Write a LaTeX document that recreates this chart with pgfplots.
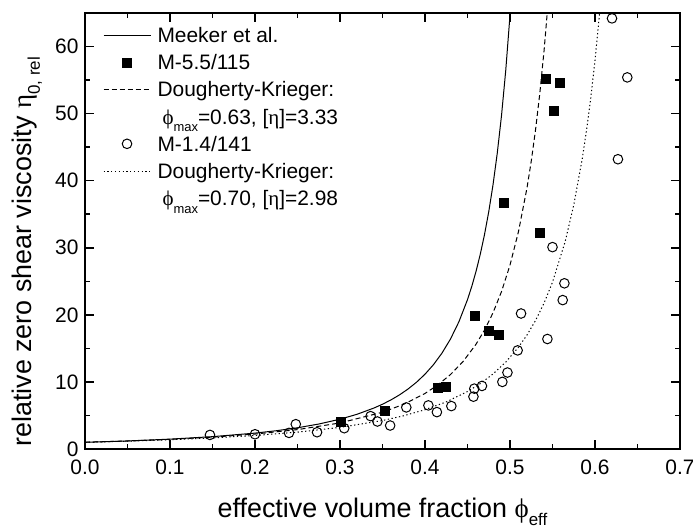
\documentclass[border=0pt]{standalone}
\usepackage{pgfplots}
\pgfplotsset{compat=1.18}
\usepackage{fontspec}
\setmainfont{Liberation Sans}
\newfontfamily\grk{Liberation Serif}
\newcommand\lsub[1]{\raisebox{-7.5bp}{\fontsize{13}{13}\selectfont #1}}
\newcommand\asub[1]{\raisebox{-8bp}{\fontsize{17}{17}\selectfont #1}}
\begin{document}
\begin{tikzpicture}
\useasboundingbox (0,0) rectangle (693bp,528bp);
\begin{axis}[
  at={(85bp,79bp)}, anchor=south west, scale only axis,
  width=595bp, height=436bp,
  xmin=0, xmax=0.7, ymin=0, ymax=65,
  xtick={0,0.1,0.2,0.3,0.4,0.5,0.6,0.7},
  xticklabels={0.0,0.1,0.2,0.3,0.4,0.5,0.6,0.7},
  ytick={0,10,20,30,40,50,60},
  minor x tick num=1, minor y tick num=1,
  tick align=inside, major tick length=9bp, minor tick length=5bp,
  axis line style={line width=2bp},
  every tick/.style={line width=1.6bp, black},
  /pgf/number format/assume math mode=true,
  ticklabel style={font=\fontsize{21}{21}\selectfont},
  xticklabel style={yshift=-7bp},
  yticklabel style={xshift=-3bp},
  xlabel={effective volume fraction {\grk ϕ}\asub{eff}},
  ylabel={relative zero shear viscosity {\grk η}\asub{0, rel}},
  xlabel style={at={(axis description cs:0.5,-0.1560)}, anchor=base, font=\fontsize{27}{27}\selectfont},
  ylabel style={at={(axis description cs:-0.0891,0.452)}, anchor=base, font=\fontsize{27}{27}\selectfont},
  legend cell align=left,
  legend style={at={(axis description cs:0.0303,0.9807)}, anchor=north west,
    draw=none, fill=none, inner sep=0pt, outer sep=0pt,
    font=\fontsize{21}{21}\selectfont,
    nodes={inner xsep=6.5bp, inner ysep=6.1bp, text height=15bp, text depth=0bp}},
  legend image code/.code={\draw[mark repeat=2,mark phase=2,#1] plot coordinates {(0bp,0bp) (23.5bp,0bp) (47bp,0bp)};},
]
% Meeker et al.
\addplot[black, line width=1bp, no marks] coordinates {
(0,1) (0.05,1.2012) (0.1,1.4697) (0.15,1.8396) (0.2,2.3688) (0.225,2.7235) (0.25,3.1642)
(0.275,3.7212) (0.3,4.4395) (0.32,5.175) (0.34,6.110) (0.35,6.6756) (0.36,7.323) (0.37,8.070)
(0.38,8.937) (0.39,9.952) (0.40,11.150) (0.41,12.578) (0.42,14.299) (0.43,16.400) (0.44,18.999)
(0.45,22.269) (0.455,24.231) (0.46,26.46) (0.465,29.017) (0.47,31.96) (0.475,35.376)
(0.48,39.37) (0.485,44.086) (0.49,49.69) (0.495,56.45) (0.5,64.68) (0.501,66.54)};
\addlegendentry{Meeker et al.}
% M-5.5/115
\addplot[black, only marks, mark=square*, mark size=4.5bp] coordinates {
(0.301,4.1) (0.353,5.7) (0.415,9.1) (0.424,9.3) (0.458,19.8) (0.475,17.6)
(0.487,17.1) (0.493,36.7) (0.535,32.2) (0.542,55.2) (0.551,50.5) (0.558,54.6)};
\addlegendentry{M-5.5/115}
% Dougherty-Krieger 0.63
\addplot[black, line width=1bp, no marks, dash pattern=on 5bp off 3bp] coordinates {
(0,1) (0.05,1.1895) (0.1,1.4371) (0.15,1.7691) (0.2,2.2285) (0.25,2.8881)
(0.3,3.8829) (0.35,5.4810) (0.375,6.669) (0.4,8.280) (0.415,9.540) (0.43,11.102)
(0.445,13.075) (0.46,15.614) (0.47,17.731) (0.48,20.30) (0.49,23.464) (0.5,27.41)
(0.51,32.42) (0.52,38.93) (0.525,42.91) (0.53,47.54)
(0.535,52.93) (0.54,59.27) (0.545,66.84)};
\addlegendentry{Dougherty-Krieger:}
\addlegendimage{empty legend}
\addlegendentry{\hspace{5bp}{\grk ϕ}\lsub{max}=0.63, [{\grk η}]=3.33}
% M-1.4/141
\addplot[black, only marks, mark=o, mark size=4.8bp, mark options={line width=1bp}] coordinates {
(0.147,2.1) (0.200,2.2) (0.240,2.4) (0.248,3.7) (0.273,2.5) (0.305,3.1)
(0.336,4.9) (0.344,4.1) (0.359,3.5) (0.378,6.2) (0.404,6.5) (0.414,5.5)
(0.431,6.4) (0.457,7.8) (0.458,9.0) (0.467,9.4) (0.491,10.0) (0.497,11.4)
(0.509,14.7) (0.513,20.2) (0.544,16.4) (0.550,30.1) (0.562,22.2) (0.564,24.7)
(0.620,64.2) (0.627,43.2) (0.638,55.4)};
\addlegendentry{M-1.4/141}
% Dougherty-Krieger 0.70
\addplot[black, line width=1bp, no marks, dash pattern=on 1.3bp off 2.5bp] coordinates {
(0,1) (0.05,1.1672) (0.1,1.3793) (0.15,1.6538) (0.2,2.0176) (0.25,2.5134)
(0.3,3.2135) (0.35,4.2457) (0.375,4.956) (0.4,5.8559) (0.425,7.021) (0.45,8.566)
(0.465,9.746) (0.48,11.183) (0.495,12.958) (0.51,15.184) (0.52,16.998) (0.53,19.150)
(0.54,21.731) (0.55,24.866) (0.565,30.97) (0.575,36.37)
(0.585,43.27) (0.59,47.48) (0.595,52.32) (0.6,57.92) (0.605,64.46) (0.607,67.37)};
\addlegendentry{Dougherty-Krieger:}
\addlegendimage{empty legend}
\addlegendentry{\hspace{5bp}{\grk ϕ}\lsub{max}=0.70, [{\grk η}]=2.98}
\end{axis}
\end{tikzpicture}
\end{document}
